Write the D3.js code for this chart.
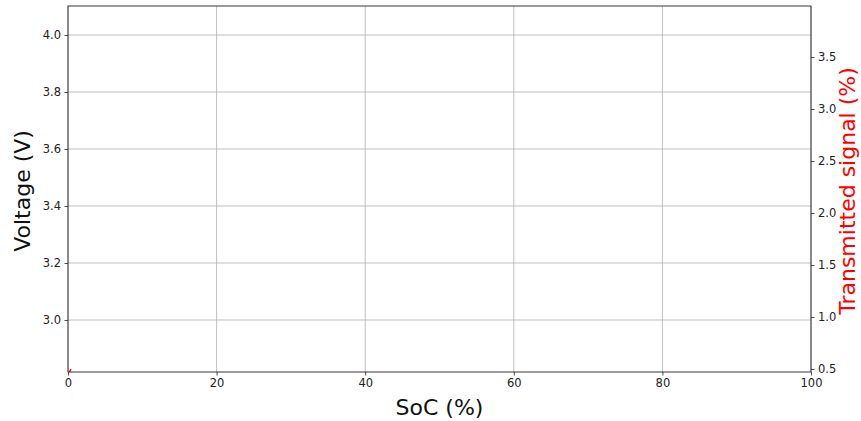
<!DOCTYPE html>
<html><head><meta charset="utf-8">
<script src="https://cdn.jsdelivr.net/npm/d3@7"></script>
<style>body{margin:0;background:#fff}svg{display:block}text{font-family:"DejaVu Sans",sans-serif}</style>
</head><body><svg id="c" width="861" height="421"></svg>
<script>
const xTicks = [0, 20, 40, 60, 80, 100];
const yLeftTicks = [3.0, 3.2, 3.4, 3.6, 3.8, 4.0];
const yRightTicks = [0.5, 1.0, 1.5, 2.0, 2.5, 3.0, 3.5];
const signalSoc = [0, 0.4];
const signalValues = [0.44, 0.5];

const svg = d3.select("#c");
const L = 68, R = 811, T = 6, B = 372;
const x = d3.scaleLinear().domain([0, 100]).range([L, R]);
const yL = d3.scaleLinear().domain([2.8175, 4.1018]).range([B, T]);
const yR = d3.scaleLinear().domain([0.471, 3.99]).range([B, T]);

svg.append("defs").append("clipPath").attr("id", "clip")
  .append("rect").attr("x", L).attr("y", T).attr("width", R - L).attr("height", B - T);

// grid
const g = svg.append("g");
g.selectAll(".gx").data(xTicks).enter().append("line")
  .attr("x1", d => x(d)).attr("x2", d => x(d)).attr("y1", T).attr("y2", B)
  .attr("stroke", "#b0b0b0").attr("stroke-width", 0.8);
g.selectAll(".gy").data(yLeftTicks).enter().append("line")
  .attr("x1", L).attr("x2", R).attr("y1", d => yL(d)).attr("y2", d => yL(d))
  .attr("stroke", "#b0b0b0").attr("stroke-width", 0.8);

// red series
const pts = signalSoc.map((s, i) => [s, signalValues[i]]);
svg.append("path").datum(pts).attr("clip-path", "url(#clip)")
  .attr("d", d3.line().x(d => x(d[0])).y(d => yR(d[1])))
  .attr("fill", "none").attr("stroke", "red").attr("stroke-width", 1.5);

// axes
const fmt1 = d3.format(".1f");
const ax = svg.append("g").attr("transform", `translate(0,${B})`)
  .call(d3.axisBottom(x).tickValues(xTicks).tickSize(3.5).tickPadding(3.5).tickFormat(d3.format("d")));
const ayl = svg.append("g").attr("transform", `translate(${L},0)`)
  .call(d3.axisLeft(yL).tickValues(yLeftTicks).tickSize(3.5).tickPadding(3.5).tickFormat(fmt1));
const ayr = svg.append("g").attr("transform", `translate(${R},0)`)
  .call(d3.axisRight(yR).tickValues(yRightTicks).tickSize(3.5).tickPadding(3.5).tickFormat(fmt1));
[ax, ayl, ayr].forEach(a => {
  a.select(".domain").remove();
  a.selectAll("text").attr("font-size", 11.5).attr("fill", "#222").attr("font-family", "DejaVu Sans");
  a.selectAll("line").attr("stroke", "#222").attr("stroke-width", 0.8);
});

// frame
svg.append("rect").attr("x", L).attr("y", T).attr("width", R - L).attr("height", B - T)
  .attr("fill", "none").attr("stroke", "#222").attr("stroke-width", 0.9);

// labels
svg.append("text").attr("x", (L + R) / 2).attr("y", 415).attr("text-anchor", "middle")
  .attr("font-size", 22).attr("fill", "#111").text("SoC (%)");
svg.append("text").attr("transform", `translate(30,191) rotate(-90)`).attr("text-anchor", "middle")
  .attr("font-size", 22).attr("fill", "#111").text("Voltage (V)");
svg.append("text").attr("transform", `translate(855,191) rotate(-90)`).attr("text-anchor", "middle")
  .attr("font-size", 22).attr("fill", "red").text("Transmitted signal (%)");
</script></body></html>
